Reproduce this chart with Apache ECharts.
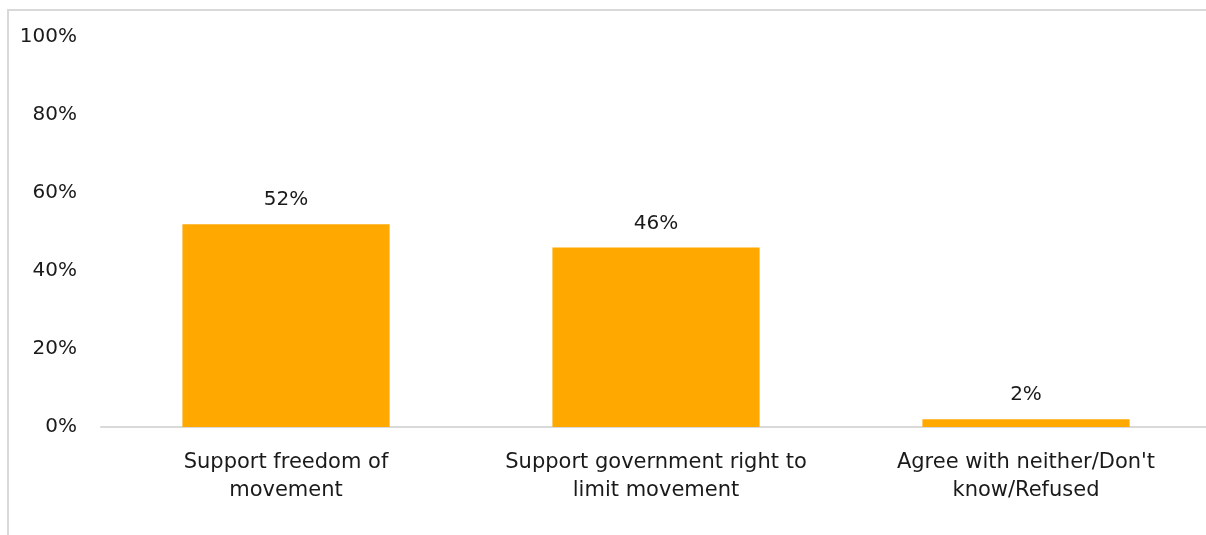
<!DOCTYPE html>
<html>
<head>
<meta charset="utf-8">
<script src="https://cdn.jsdelivr.net/npm/echarts@6/dist/echarts.min.js"></script>
<style>
  html, body { margin: 0; padding: 0; background: #fff; overflow: hidden; }
  /* the plot runs past the right edge in the original, so the canvas is a bit wider than the window */
  #chart { width: 1220px; height: 535px; }
</style>
</head>
<body>
<div id="chart"></div>
<script>
// data
const categories = [
  'Support freedom of\nmovement',
  'Support government right to\nlimit movement',
  "Agree with neither/Don't\nknow/Refused"
];
const shares = [52, 46, 2];
const barColor = '#FFA800';

const chart = echarts.init(document.getElementById('chart'));
const fontFamily = '"DejaVu Sans", "Noto Sans", sans-serif';

const option = {
  animation: false,
  // outer frame, only the left and top edges show in the picture
  graphic: [{
    type: 'rect',
    shape: { x: 8, y: 10, width: 1400, height: 700 },
    style: { fill: 'none', stroke: '#d9d9d9', lineWidth: 2 },
    silent: true
  }],
  grid: {
    left: 101,
    right: 9,
    top: 37,
    bottom: 108,
    containLabel: false
  },
  xAxis: {
    type: 'category',
    data: categories,
    axisTick: { show: false },
    axisLine: { show: true, lineStyle: { color: '#d9d9d9', width: 2 } },
    axisLabel: {
      color: '#1a1a1a',
      fontSize: 21,
      fontFamily: fontFamily,
      lineHeight: 28,
      margin: 22,
      interval: 0
    }
  },
  yAxis: {
    type: 'value',
    min: 0,
    max: 100,
    interval: 20,
    splitLine: { show: false },
    axisLine: { show: false },
    axisTick: { show: false },
    axisLabel: {
      color: '#1a1a1a',
      fontSize: 20,
      fontFamily: fontFamily,
      margin: 24,
      formatter: v => v + '%'
    }
  },
  series: [{
    type: 'bar',
    data: shares,
    barWidth: '56%',
    itemStyle: { color: barColor },
    label: {
      show: true,
      position: 'top',
      distance: 14,
      color: '#1a1a1a',
      fontSize: 20,
      fontFamily: fontFamily,
      formatter: p => p.value + '%'
    }
  }]
};

chart.setOption(option);
</script>
</body>
</html>
